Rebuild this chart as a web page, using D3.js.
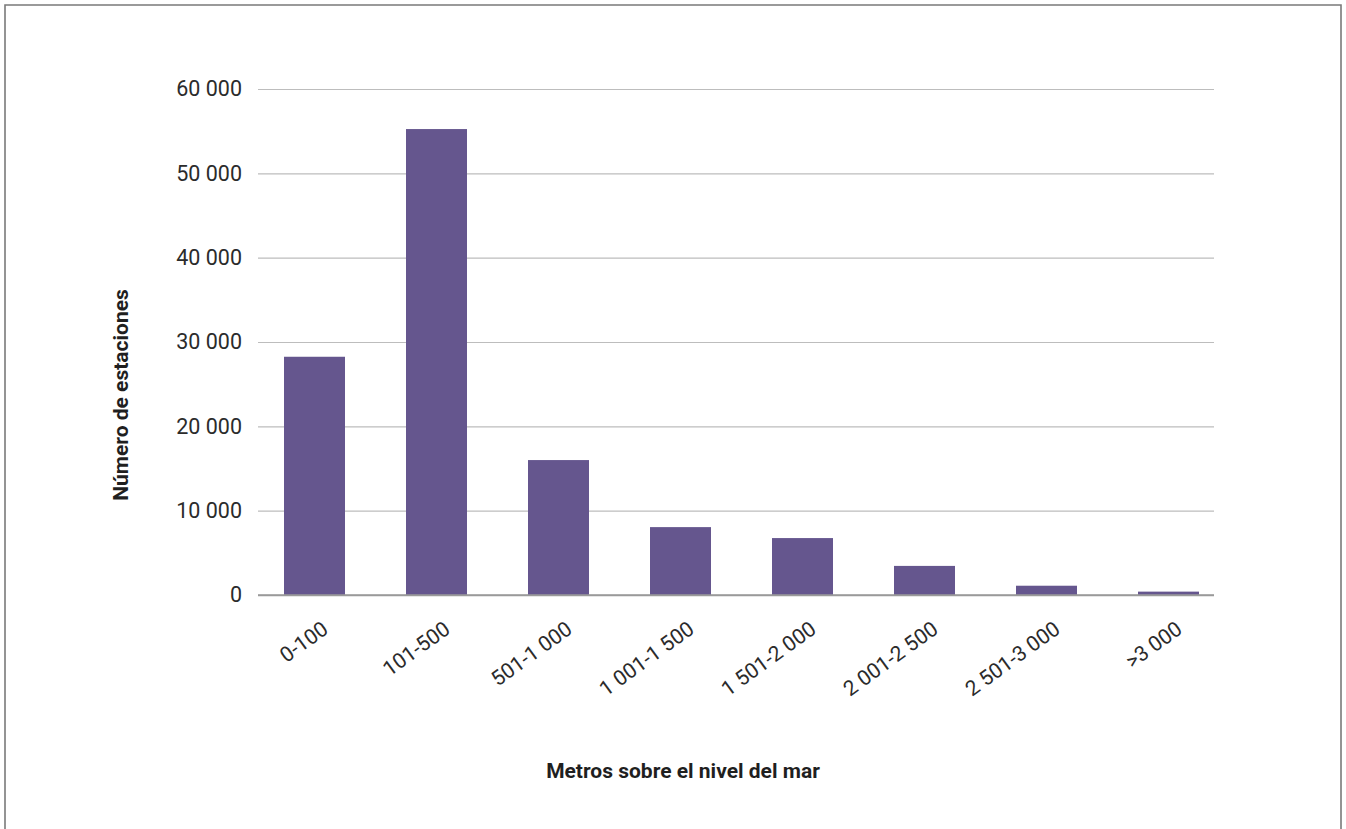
<!DOCTYPE html>
<html>
<head>
<meta charset="utf-8">
<script src="https://cdn.jsdelivr.net/npm/d3@7"></script>
<style>
  html, body { margin: 0; padding: 0; background: #fff; }
  svg { display: block; }
</style>
</head>
<body>
<svg id="chart" width="1346" height="829"></svg>
<script>
// Altitude bands (metres above sea level) and number of stations per band
const categories = ["0-100", "101-500", "501-1 000", "1 001-1 500", "1 501-2 000", "2 001-2 500", "2 501-3 000", ">3 000"];
const stations = [28250, 55250, 16000, 8050, 6750, 3450, 1100, 400];
const yTicks = [0, 10000, 20000, 30000, 40000, 50000, 60000];
const yTickLabels = ["0", "10 000", "20 000", "30 000", "40 000", "50 000", "60 000"];

const svg = d3.select("#chart");
const W = 1346, H = 829;

// Frame around the figure (open at the bottom edge)
svg.append("path")
  .attr("d", `M5,${H + 2} V5 H1341 V${H + 2}`)
  .attr("fill", "none")
  .attr("stroke", "#7a7a7a")
  .attr("stroke-width", 1.6);

const plot = { left: 258, right: 1214, top: 89, bottom: 595 };

const x = d3.scaleBand()
  .domain(categories)
  .range([253.5, 1229.5])
  .paddingInner(0.5)
  .paddingOuter(0.25);

const y = d3.scaleLinear()
  .domain([0, 60000])
  .range([plot.bottom, plot.top]);

// Horizontal gridlines
const yAxis = d3.axisLeft(y)
  .tickValues(yTicks)
  .tickSize(-(plot.right - plot.left))
  .tickPadding(16)
  .tickFormat((d, i) => yTickLabels[i]);

const gy = svg.append("g")
  .attr("transform", `translate(${plot.left},0)`)
  .call(yAxis);
gy.select(".domain").remove();
gy.selectAll(".tick line")
  .attr("stroke", (d) => d === 0 ? "#9a9a9a" : "#bdbdbd")
  .attr("stroke-width", (d) => d === 0 ? 1.6 : 1.2);
gy.selectAll(".tick text")
  .attr("font-family", "Roboto, sans-serif")
  .attr("font-size", 21.5)
  .attr("fill", "#2b2b2b");

// Bars
svg.append("g")
  .selectAll("rect")
  .data(stations)
  .join("rect")
  .attr("x", (d, i) => x(categories[i]))
  .attr("y", (d) => y(d))
  .attr("width", x.bandwidth())
  .attr("height", (d) => y(0) - y(d))
  .attr("fill", "#65568e");

// Redraw baseline above bars
svg.append("line")
  .attr("x1", plot.left).attr("x2", plot.right)
  .attr("y1", y(0)).attr("y2", y(0))
  .attr("stroke", "#9a9a9a")
  .attr("stroke-width", 1.6);

// Category labels, rotated
svg.append("g")
  .selectAll("text")
  .data(categories)
  .join("text")
  .attr("transform", (d) => `translate(${x(d) + x.bandwidth() / 2 + 15},${632}) rotate(-36)`)
  .attr("text-anchor", "end")
  .attr("font-family", "Roboto, sans-serif")
  .attr("font-size", 21)
  .attr("fill", "#2b2b2b")
  .text((d) => d);

// Axis titles
svg.append("text")
  .attr("transform", `translate(128,395) rotate(-90)`)
  .attr("text-anchor", "middle")
  .attr("font-family", "Roboto, sans-serif")
  .attr("font-weight", 700)
  .attr("font-size", 21)
  .attr("fill", "#1f1f1f")
  .text("Número de estaciones");

svg.append("text")
  .attr("x", 683)
  .attr("y", 778)
  .attr("text-anchor", "middle")
  .attr("font-family", "Roboto, sans-serif")
  .attr("font-weight", 700)
  .attr("font-size", 21)
  .attr("fill", "#1f1f1f")
  .text("Metros sobre el nivel del mar");
</script>
</body>
</html>
